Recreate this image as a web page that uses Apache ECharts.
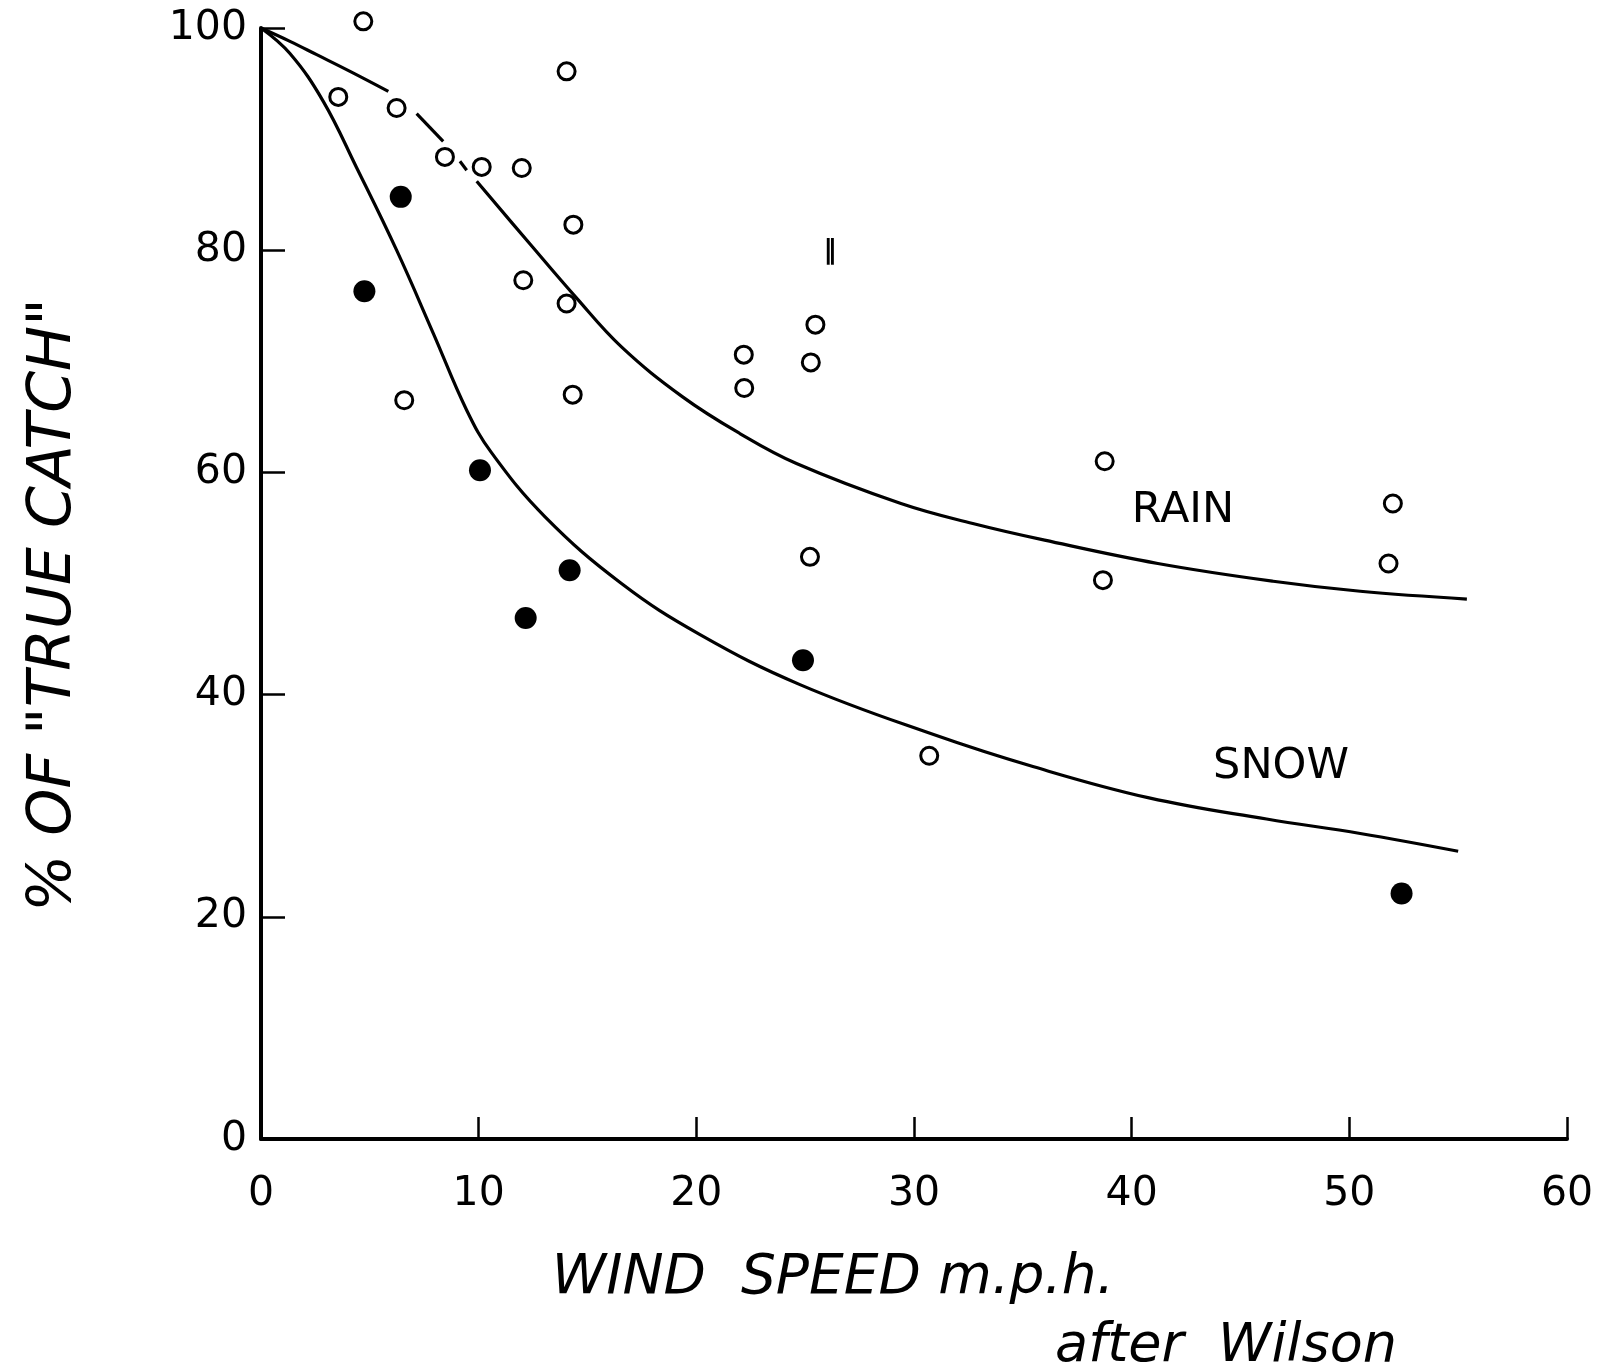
<!DOCTYPE html>
<html>
<head>
<meta charset="utf-8">
<script src="https://cdn.jsdelivr.net/npm/echarts@6/dist/echarts.min.js"></script>
<style>
  html, body { margin: 0; padding: 0; background: #fff; }
  #chart { width: 1606px; height: 1372px; }
</style>
</head>
<body>
<div id="chart"></div>
<script>
// observations, [wind speed mph, % of true catch]
var rainPoints = [
    [4.7, 100.6], [3.55, 93.8], [6.23, 92.8], [8.45, 88.4], [10.14, 87.5],
    [11.98, 87.4], [14.04, 96.1], [14.35, 82.3], [12.05, 77.3], [14.04, 75.2],
    [14.32, 67.0], [6.58, 66.5], [22.18, 70.6], [22.2, 67.6], [25.47, 73.3],
    [25.26, 69.9], [25.22, 52.4], [30.7, 34.5], [38.76, 61.0], [38.68, 50.3],
    [52.0, 57.2], [51.8, 51.8]
];
var snowPoints = [
    [6.42, 84.8], [4.75, 76.3], [10.06, 60.2], [14.18, 51.2], [12.16, 46.9],
    [24.9, 43.1], [52.4, 22.1]
];

// hand drawn rain curve is broken where it runs past the circles
var rainCurveA = [[0, 100], [1.33, 98.8], [2.56, 97.6], [4.09, 96.1], [5.85, 94.3]];
var rainCurveB = [[7.15, 92.3], [8.37, 89.8]];
var rainCurveC = [[9.14, 88.0], [9.45, 87.2]];
var rainCurveD = [
    [9.91, 86.2], [12.34, 80.6], [14.45, 75.8], [16.56, 71.3], [19.37, 66.8],
    [22.0, 63.5], [24.6, 60.8], [29.4, 57.2], [32.7, 55.4], [36.0, 53.9],
    [41.2, 51.8], [46.5, 50.2], [50.5, 49.3], [55.4, 48.6]
];
var snowCurve = [
    [0, 100], [1.33, 97.7], [2.86, 93.4], [4.4, 87.4], [6.23, 80.0],
    [7.92, 72.5], [9.45, 65.6], [10.58, 61.8], [13.05, 56.0], [16.56, 50.0],
    [20.17, 45.4], [24.76, 40.9], [30.9, 36.4], [35.5, 33.5], [40.8, 30.7],
    [46.2, 28.8], [50.5, 27.5], [55.0, 25.9]
];

var FONT = 'DejaVu Sans';

function curve(data) {
    return {
        type: 'line',
        data: data,
        smooth: 0.4,
        symbol: 'none',
        silent: true,
        z: 2,
        lineStyle: { color: '#000', width: 3.2 }
    };
}

var chart = echarts.init(document.getElementById('chart'));
chart.setOption({
    backgroundColor: '#fff',
    animation: false,
    grid: {
        left: 261,
        right: 39,
        top: 28,
        bottom: 233
    },
    xAxis: {
        type: 'value',
        min: 0,
        max: 60,
        interval: 10,
        splitLine: { show: false },
        axisLine: { lineStyle: { color: '#000', width: 4 } },
        axisTick: { inside: true, length: 22, lineStyle: { color: '#000', width: 2.5 } },
        axisLabel: { color: '#000', fontFamily: FONT, fontSize: 41, margin: 35 }
    },
    yAxis: {
        type: 'value',
        min: 0,
        max: 100,
        interval: 20,
        splitLine: { show: false },
        axisLine: { show: true, lineStyle: { color: '#000', width: 4 } },
        axisTick: { show: true, inside: true, length: 24, lineStyle: { color: '#000', width: 2.5 } },
        axisLabel: { color: '#000', fontFamily: FONT, fontSize: 41, margin: 14 }
    },
    graphic: [
        {
            type: 'text', x: 54, y: 605, rotation: Math.PI / 2,
            style: {
                text: '% OF "TRUE CATCH"', fill: '#000', font: 'italic 60px "DejaVu Sans"',
                align: 'center', verticalAlign: 'middle'
            }
        },
        {
            type: 'text', x: 833, y: 1279,
            style: {
                text: 'WIND  SPEED m.p.h.', fill: '#000', font: 'italic 55px "DejaVu Sans"',
                align: 'center', verticalAlign: 'middle'
            }
        },
        {
            type: 'text', x: 1226, y: 1347,
            style: {
                text: 'after  Wilson', fill: '#000', font: 'italic 54px "DejaVu Sans"',
                align: 'center', verticalAlign: 'middle'
            }
        },
        {
            type: 'text', x: 1183, y: 511,
            style: { text: 'RAIN', fill: '#000', font: '43px "DejaVu Sans"', align: 'center', verticalAlign: 'middle' }
        },
        {
            type: 'text', x: 1281, y: 767,
            style: { text: 'SNOW', fill: '#000', font: '43px "DejaVu Sans"', align: 'center', verticalAlign: 'middle' }
        },
        {
            type: 'text', x: 830, y: 251,
            style: { text: '\u2016', fill: '#000', font: 'bold 26px "DejaVu Sans"', align: 'center', verticalAlign: 'middle' }
        }
    ],
    series: [
        curve(rainCurveA),
        curve(rainCurveB),
        curve(rainCurveC),
        curve(rainCurveD),
        curve(snowCurve),
        {
            name: 'Rain',
            type: 'scatter',
            data: rainPoints,
            clip: false,
            symbol: 'circle',
            symbolSize: 17,
            z: 3,
            itemStyle: { color: '#fff', borderColor: '#000', borderWidth: 3, opacity: 1 }
        },
        {
            name: 'Snow',
            type: 'scatter',
            data: snowPoints,
            clip: false,
            symbol: 'circle',
            symbolSize: 22,
            z: 3,
            itemStyle: { color: '#000', opacity: 1 }
        }
    ]
});
</script>
</body>
</html>
